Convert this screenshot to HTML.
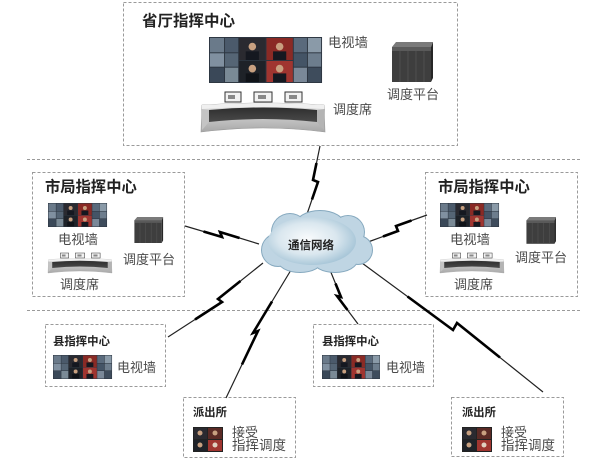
<!DOCTYPE html>
<html><head><meta charset="utf-8"><style>
html,body{margin:0;padding:0;background:#fff;}
svg{display:block;}
text{font-family:"Liberation Sans","Noto Sans CJK SC",sans-serif;}
</style></head><body>
<svg width="600" height="470" viewBox="0 0 600 470" xmlns="http://www.w3.org/2000/svg">
<defs>
<radialGradient id="cg" cx="0.45" cy="0.45" r="0.6">
<stop offset="0" stop-color="#ffffff"/><stop offset="0.55" stop-color="#dde9f0"/><stop offset="1" stop-color="#9dbfd3"/>
</radialGradient>
<linearGradient id="body" x1="0" y1="0" x2="0" y2="1">
<stop offset="0" stop-color="#e4e4e4"/><stop offset="1" stop-color="#a8a8a8"/>
</linearGradient>
<linearGradient id="band" x1="0" y1="0" x2="0" y2="1">
<stop offset="0" stop-color="#2e2e2e"/><stop offset="1" stop-color="#4a4a4a"/>
</linearGradient>
<g id="vw">
<rect width="120" height="48" fill="#2c3540"/>
<rect x="1" y="1" width="15" height="15" fill="#6a7a8a"/>
<rect x="17" y="1" width="14" height="15" fill="#4b5a6b"/>
<rect x="1" y="17" width="15" height="14" fill="#8090a0"/>
<rect x="17" y="17" width="14" height="14" fill="#556575"/>
<rect x="1" y="32" width="15" height="15" fill="#3a4858"/>
<rect x="17" y="32" width="14" height="15" fill="#7a8a96"/>
<rect x="32" y="1" width="28" height="23" fill="#2a2a30"/>
<rect x="61" y="1" width="28" height="23" fill="#8a2a25"/>
<rect x="32" y="25" width="28" height="22" fill="#1e2228"/>
<rect x="61" y="25" width="28" height="22" fill="#a03530"/>
<circle cx="46" cy="10" r="4" fill="#c8a080"/><rect x="39" y="15" width="14" height="9" fill="#151820"/>
<circle cx="75" cy="10" r="4" fill="#c8a080"/><rect x="68" y="15" width="14" height="9" fill="#151820"/>
<circle cx="46" cy="33" r="4" fill="#c8a080"/><rect x="39" y="38" width="14" height="9" fill="#101318"/>
<circle cx="75" cy="33" r="4" fill="#c8a080"/><rect x="68" y="38" width="14" height="9" fill="#151820"/>
<rect x="90" y="1" width="14" height="15" fill="#5a6a7c"/>
<rect x="105" y="1" width="14" height="15" fill="#8a9aa8"/>
<rect x="90" y="17" width="14" height="14" fill="#445466"/>
<rect x="105" y="17" width="14" height="14" fill="#6d7d8d"/>
<rect x="90" y="32" width="14" height="15" fill="#7a8898"/>
<rect x="105" y="32" width="14" height="15" fill="#3e4c5c"/>
</g>
<g id="rack">
<polygon points="2,5 6,0 43,0 41,5" fill="#7a7a7a"/>
<polygon points="41,5 43,0 43,36 41,40" fill="#262626"/>
<rect x="2" y="5" width="39" height="35" fill="#3e3e3e"/>
<rect x="2" y="5" width="39" height="4" fill="#5a5a5a"/>
<line x1="10" y1="9" x2="10" y2="40" stroke="#555" stroke-width="0.8"/>
<line x1="18" y1="9" x2="18" y2="40" stroke="#555" stroke-width="0.8"/>
<line x1="26" y1="9" x2="26" y2="40" stroke="#555" stroke-width="0.8"/>
<line x1="34" y1="9" x2="34" y2="40" stroke="#555" stroke-width="0.8"/>
</g>
<g id="console">
<rect x="24" y="0" width="16" height="10" fill="#f2f2f2" stroke="#333" stroke-width="1"/>
<rect x="53" y="0" width="18" height="10" fill="#f2f2f2" stroke="#333" stroke-width="1"/>
<rect x="84" y="0" width="17" height="10" fill="#f2f2f2" stroke="#333" stroke-width="1"/>
<rect x="27" y="3" width="7" height="4" fill="#888"/><rect x="57" y="3" width="8" height="4" fill="#888"/><rect x="88" y="3" width="8" height="4" fill="#888"/>
<path d="M1,13 Q62,9 123,13 L124,40 Q62,32 0,40 Z" fill="url(#body)" stroke="#999" stroke-width="0.6"/>
<path d="M1,13 Q62,9 123,13 L123,17 Q62,13 1,17 Z" fill="#f0f0f0"/>
<path d="M8,18 Q62,13 116,18 L116,30 Q62,24 8,30 Z" fill="url(#band)"/>
<path d="M0,17 L8,18 L8,30 L1,38 Z" fill="#c4c4c4"/>
<path d="M124,17 L116,18 L116,30 L123,38 Z" fill="#b4b4b4"/>
</g>
<g id="pimg">
<rect width="30" height="25" fill="#222"/>
<rect x="1" y="1" width="13" height="11" fill="#2a2a30"/>
<rect x="15" y="1" width="14" height="11" fill="#5a2a25"/>
<rect x="1" y="13" width="13" height="11" fill="#1e2228"/>
<rect x="15" y="13" width="14" height="11" fill="#a03530"/>
<circle cx="7" cy="6" r="2.5" fill="#c8a080"/><circle cx="22" cy="6" r="2.5" fill="#c8a080"/>
<circle cx="7" cy="18" r="2.5" fill="#c8a080"/><circle cx="22" cy="18" r="2.5" fill="#e0d0c0"/>
</g>
</defs>

<g fill="none" stroke="#9a9a9a" stroke-width="1" stroke-dasharray="3,2">
<rect x="123.5" y="2.5" width="334" height="143"/>
<line x1="27" y1="159.5" x2="582" y2="159.5"/>
<line x1="27" y1="310.5" x2="580" y2="310.5"/>
<rect x="32.5" y="172.5" width="152" height="124"/>
<rect x="425.5" y="172.5" width="152" height="124"/>
<rect x="45.5" y="324.5" width="120" height="62"/>
<rect x="313.5" y="324.5" width="120" height="62"/>
<rect x="183.5" y="397.5" width="112" height="60"/>
<rect x="451.5" y="397.5" width="112" height="59"/>
</g>

<!-- lightning connectors: thin full path + thick middle -->
<g fill="none" stroke="#222" stroke-width="1.2" stroke-linejoin="miter">
<polyline points="320,146 313,180 318,182 306,217"/>
<polyline points="185,226 222,237 220,232 259,244"/>
<polyline points="368,242 398,231 396,226 427,215"/>
<polyline points="263,263 218,299 222,302 168,337"/>
<polyline points="291,270 253,333 258,331 226,398"/>
<polyline points="330,270 341,297 337,296 358,324"/>
<polyline points="362,263 453,330 457,323 543,392"/>
</g>
<g fill="none" stroke="#000" stroke-width="2.6" stroke-linejoin="miter">
<polyline points="316.5,163 313,180 318,182 312,199.5"/>
<polyline points="203.5,231.5 222,237 220,232 239.5,238"/>
<polyline points="383,236.5 398,231 396,226 411.5,220.5"/>
<polyline points="240.5,281 218,299 222,302 195,319.5"/>
<polyline points="272,301.5 253,333 258,331 242,364.5"/>
<polyline points="335.5,283.5 341,297 337,296 347.5,310"/>
<polyline points="407.5,296.5 453,330 457,323 500,357.5"/>
</g>

<!-- cloud -->
<g fill="#86a9bf">
<ellipse cx="315" cy="243" rx="46" ry="23"/>
<circle cx="290" cy="232" r="19"/>
<ellipse cx="320" cy="225" rx="25" ry="15"/>
<circle cx="348" cy="232" r="17"/>
<circle cx="278" cy="250" r="17"/>
<ellipse cx="300" cy="260" rx="23" ry="13"/>
<ellipse cx="335" cy="260" rx="23" ry="13"/>
<circle cx="358" cy="250" r="15"/>
</g>
<g fill="#bfd5e3">
<ellipse cx="315" cy="243" rx="45" ry="22"/>
<circle cx="290" cy="232" r="18"/>
<ellipse cx="320" cy="225" rx="24" ry="14"/>
<circle cx="348" cy="232" r="16"/>
<circle cx="278" cy="250" r="16"/>
<ellipse cx="300" cy="260" rx="22" ry="12"/>
<ellipse cx="335" cy="260" rx="22" ry="12"/>
<circle cx="358" cy="250" r="14"/>
</g>
<ellipse cx="312" cy="241" rx="44" ry="24" fill="url(#cg)" opacity="0.9"/>

<!-- images -->
<use href="#vw" transform="translate(209,37) scale(0.942,0.958)"/>
<use href="#rack" transform="translate(390,42)"/>
<use href="#console" transform="translate(201,92)"/>

<use href="#vw" transform="translate(48,203) scale(0.492,0.5)"/>
<use href="#rack" transform="translate(133,217) scale(0.7,0.65)"/>
<use href="#console" transform="translate(48,253) scale(0.516,0.5)"/>

<use href="#vw" transform="translate(440,203) scale(0.492,0.5)"/>
<use href="#rack" transform="translate(525,217) scale(0.72,0.67)"/>
<use href="#console" transform="translate(440,253) scale(0.516,0.5)"/>

<use href="#vw" transform="translate(53,355) scale(0.492,0.5)"/>
<use href="#vw" transform="translate(322,355) scale(0.483,0.5)"/>

<use href="#pimg" transform="translate(193,427)"/>
<use href="#pimg" transform="translate(462,427)"/>

<!-- text -->
<g fill="#222" font-weight="bold">
<text x="142" y="26" font-size="15.5">省厅指挥中心</text>
<text x="45" y="192" font-size="15.3">市局指挥中心</text>
<text x="438" y="192" font-size="15.3">市局指挥中心</text>
<text x="53" y="345" font-size="11.4">县指挥中心</text>
<text x="322" y="345" font-size="11.4">县指挥中心</text>
<text x="193" y="416" font-size="11.3">派出所</text>
<text x="462" y="416" font-size="11.3">派出所</text>
<text x="288" y="249" font-size="11.5">通信网络</text>
</g>
<g fill="#4a4a4a" font-size="13">
<text x="328" y="47" font-size="13.3">电视墙</text>
<text x="387" y="99">调度平台</text>
<text x="333" y="114">调度席</text>
<text x="58" y="244" font-size="13.3">电视墙</text>
<text x="60" y="289">调度席</text>
<text x="123" y="264">调度平台</text>
<text x="450" y="244" font-size="13.3">电视墙</text>
<text x="454" y="289">调度席</text>
<text x="515" y="262">调度平台</text>
<text x="117" y="372">电视墙</text>
<text x="386" y="372">电视墙</text>
<text x="232" y="437">接受</text>
<text x="232" y="450" font-size="13.5">指挥调度</text>
<text x="501" y="437">接受</text>
<text x="501" y="450" font-size="13.5">指挥调度</text>
</g>
</svg>
</body></html>
